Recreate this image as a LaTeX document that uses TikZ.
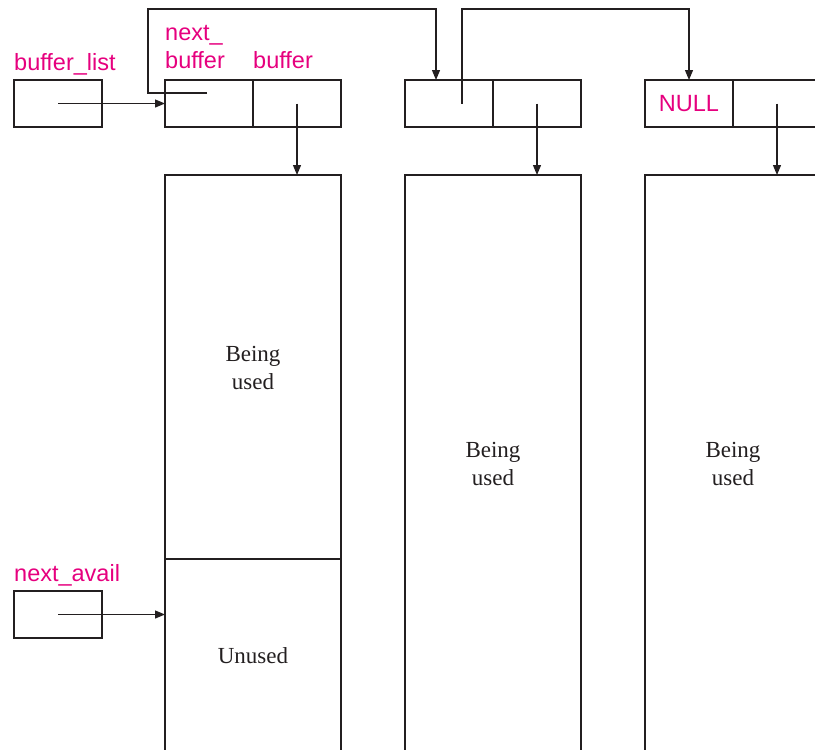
\documentclass[tikz,border=0pt]{standalone}
\usepackage{fontspec}
\setmainfont{Liberation Serif}
\newfontfamily\labelfont{Liberation Sans}
\usetikzlibrary{arrows.meta}
\definecolor{lblmag}{HTML}{E6007E}
\definecolor{ink}{HTML}{231F20}
\tikzset{
  cell/.style={draw=ink, line width=1.3pt, rectangle, minimum width=88pt, minimum height=47pt, inner sep=0pt, outer sep=0pt},
  membox/.style={draw=ink, line width=1.3pt, rectangle, minimum width=176pt, inner sep=0pt, outer sep=0pt},
  ptr/.style={draw=ink, line width=1.2pt, -{Triangle[length=10pt,width=8pt]}},
  lbl/.style={text=lblmag, font=\labelfont\fontsize{23.5}{28}\selectfont, inner sep=0pt, anchor=base west, align=left},
  body/.style={text=ink, font=\fontsize{23}{28}\selectfont, inner sep=0pt, align=center}
}
\begin{document}
\begin{tikzpicture}[x=1pt, y=-1pt]
\useasboundingbox (0,0) rectangle (815,750);
\clip (0,0) rectangle (815,750);
% pointer variables
\node[cell] (bl) at (58,103.5) {};
\node[cell] (na) at (58,614.5) {};
\node[lbl] (bllbl) at (14,70) {buffer\_list};
\node[lbl] (nalbl) at (14,581) {next\_avail};
% list node 1
\node[cell] (n1a) at (209,103.5) {};
\node[cell] (n1b) at (297,103.5) {};
\node[lbl] (nextlbl) at (165,40) {next\_};
\node[lbl] (nbuflbl) at (165,68) {buffer};
\node[lbl] (buflbl) at (253,68) {buffer};
% list node 2
\node[cell] (n2a) at (449,103.5) {};
\node[cell] (n2b) at (537,103.5) {};
% list node 3
\node[cell] (n3a) at (689,103.5) {};
\node[cell] (n3b) at (777,103.5) {};
\node[lbl, anchor=center] (null) at (n3a.center) {NULL};
% memory blocks
\node[membox, minimum height=384pt] (m1) at (253,367) {};
\node[membox, minimum height=211pt] (m1u) at (253,664.5) {};
\node[membox, minimum height=595pt] (m2) at (493,472.5) {};
\node[membox, minimum height=595pt] (m3) at (733,472.5) {};
\node[body] (t1) at (253,368) {Being\\used};
\node[body] (t1u) at (253,656) {Unused};
\node[body] (t2) at (493,464) {Being\\used};
\node[body] (t3) at (733,464) {Being\\used};
% connectors
\draw[ptr] (bl.center) -- (n1a.west);
\draw[ptr] (na.center) -- (na.center -| m1u.west);
\draw[ptr] (n1b.center) -- (n1b.center |- m1.north);
\draw[ptr] (n2b.center) -- (n2b.center |- m2.north);
\draw[ptr] (n3b.center) -- (n3b.center |- m3.north);
\coordinate (l1) at ([shift={(-2pt,10.5pt)}]n1a.center);
\coordinate (l1top) at (148,9);
\coordinate (t2) at ([xshift=-13pt]n2a.north);
\draw[ptr] (l1) -| (l1top) -| (t2);
\coordinate (l2) at ([xshift=13pt]n2a.center);
\coordinate (l2top) at (462,9);
\draw[ptr] (l2) -- (l2top) -| (n3a.north);
\end{tikzpicture}
\end{document}
